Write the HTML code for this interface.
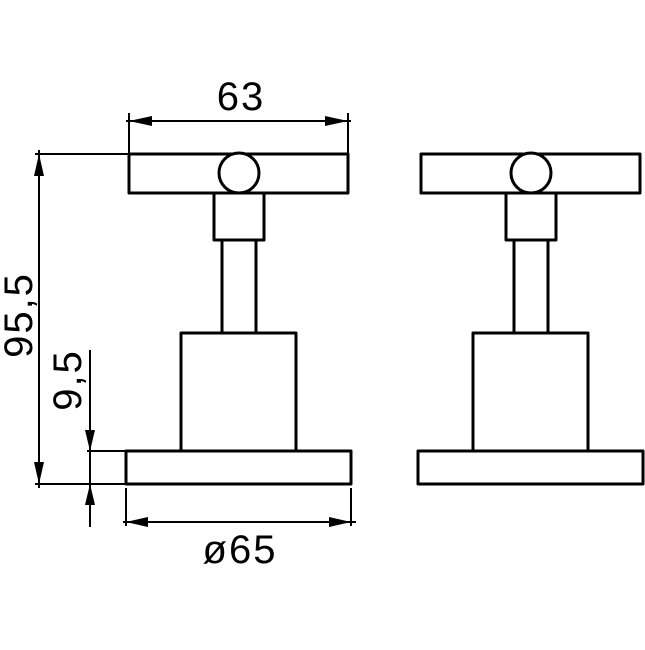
<!DOCTYPE html>
<html><head><style>html,body{margin:0;padding:0;background:#fff}</style></head><body>
<svg width="645" height="645" viewBox="0 0 645 645" xmlns="http://www.w3.org/2000/svg">
<defs>
<g id="part" fill="none" stroke="#000" stroke-width="3" stroke-linejoin="round">
<rect x="129" y="154" width="219" height="39"/>
<rect x="214" y="193" width="50" height="47"/>
<line x1="222" y1="240" x2="222" y2="333"/>
<line x1="256" y1="240" x2="256" y2="333"/>
<rect x="181" y="333" width="115" height="118"/>
<rect x="126" y="451" width="225" height="33"/>
<circle cx="239" cy="173" r="20" fill="#fff"/>
</g>
</defs>
<use href="#part"/>
<use href="#part" transform="translate(292,0)"/>
<g stroke="#000" stroke-width="2" fill="none">
<line x1="129" y1="113" x2="129" y2="154"/>
<line x1="348" y1="113" x2="348" y2="154"/>
<line x1="126" y1="121" x2="351" y2="121"/>
<line x1="35" y1="154" x2="129" y2="154"/>
<line x1="35" y1="484" x2="126" y2="484"/>
<line x1="87" y1="451" x2="126" y2="451"/>
<line x1="39" y1="150" x2="39" y2="488"/>
<line x1="90" y1="350" x2="90" y2="527"/>
<line x1="126" y1="488" x2="126" y2="526"/>
<line x1="351" y1="488" x2="351" y2="526"/>
<line x1="123" y1="522" x2="356" y2="522"/>
</g>
<g fill="#000">
<polygon points="129,121 152,116 152,126"/>
<polygon points="348,121 325,116 325,126"/>
<polygon points="39,154 34,176 44,176"/>
<polygon points="39,484 34,462 44,462"/>
<polygon points="90,451 85,430 95,430"/>
<polygon points="90,484 85,505 95,505"/>
<polygon points="126,522 148,517 148,527"/>
<polygon points="351,522 329,517 329,527"/>
</g>
<g font-family="Liberation Sans, sans-serif" font-size="40" fill="#000" text-anchor="middle" letter-spacing="2">
<text x="241" y="110">63</text>
<text x="240" y="563">ø65</text>
<text transform="translate(32,315) rotate(-90)">95,5</text>
<text transform="translate(81,380) rotate(-90)">9,5</text>
</g>
</svg>
</body></html>
